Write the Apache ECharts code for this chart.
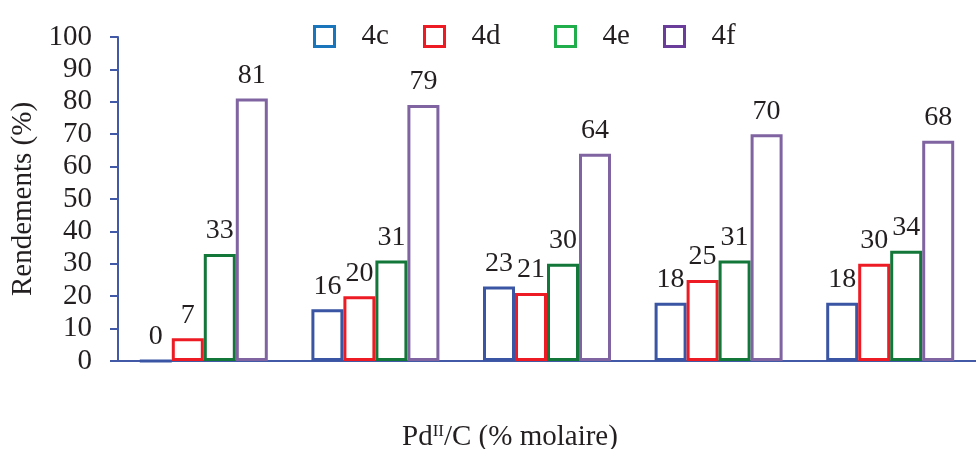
<!DOCTYPE html>
<html>
<head>
<meta charset="utf-8">
<script src="https://cdn.jsdelivr.net/npm/echarts@6/dist/echarts.min.js"></script>
<style>html,body{margin:0;padding:0;background:#fff}#c{width:976px;height:449px}</style>
</head>
<body>
<div id="c"></div>
<script>
const categories = ['1', '2', '3', '4', '5'];
const seriesNames = ['4c', '4d', '4e', '4f'];
const s4c = [0, 16, 23, 18, 18];
const s4d = [7, 20, 21, 25, 30];
const s4e = [33, 31, 30, 31, 34];
const s4f = [81, 79, 64, 70, 68];
const yTicks = [0, 10, 20, 30, 40, 50, 60, 70, 80, 90, 100];

const FONT = 'Liberation Serif';
const TXT = '#231f20';
const barColors = ['#3a55a4', '#ed1c24', '#13773a', '#8064a2'];
const legendColors = ['#1b75bb', '#ed1c24', '#1fae4b', '#6a3d9a'];
const legendLefts = [308, 418, 549, 658];
const values = [s4c, s4d, s4e, s4f];

const chart = echarts.init(document.getElementById('c'), null, {renderer: 'canvas'});

const legends = seriesNames.map((n, i) => ({
  left: legendLefts[i], top: 17,
  itemWidth: 20, itemHeight: 20, itemGap: 0,
  textStyle: {fontFamily: FONT, fontSize: 29, color: TXT, padding: [0, 0, 0, 22]},
  icon: 'rect',
  selectedMode: false,
  data: [{name: n, itemStyle: {color: '#fff', borderColor: legendColors[i], borderWidth: 3}}]
}));

chart.setOption({
  animation: false,
  backgroundColor: '#fff',
  legend: legends,
  title: {
    left: 397, top: 418,
    text: '{a|Pd}{s|II}{a|/C (% molaire)}',
    textStyle: {
      fontWeight: 'normal',
      rich: {
        a: {fontFamily: FONT, fontSize: 29, color: TXT, fontWeight: 'normal'},
        s: {fontFamily: FONT, fontSize: 17, color: TXT, fontWeight: 'normal', verticalAlign: 'top', padding: [0, 0, 12, 0]}
      }
    }
  },
  grid: {left: 118, top: 37, width: 871, height: 324, containLabel: false},
  xAxis: {
    type: 'category', data: categories,
    axisLine: {lineStyle: {color: '#4259a8', width: 2}},
    axisTick: {show: false}, axisLabel: {show: false}
  },
  yAxis: {
    type: 'value', min: 0, max: 100, interval: 10,
    name: 'Rendements (%)', nameLocation: 'middle', nameGap: 65,
    nameTextStyle: {fontFamily: FONT, fontSize: 29, color: TXT},
    axisLine: {show: true, lineStyle: {color: '#4259a8', width: 2}},
    axisTick: {show: true, length: 8, lineStyle: {color: '#4259a8', width: 2}},
    axisLabel: {fontFamily: FONT, fontSize: 29, color: TXT, margin: 26,
      formatter: v => yTicks.includes(v) ? String(v) : ''},
    splitLine: {show: false}
  },
  series: seriesNames.map((n, i) => ({
    name: n, type: 'bar', data: values[i],
    barWidth: 32, barGap: '0%',
    itemStyle: {color: '#fff', borderColor: barColors[i], borderWidth: 3},
    label: {show: true, position: 'top', distance: 9, fontFamily: FONT, fontSize: 28, color: TXT}
  }))
});
</script>
</body>
</html>
